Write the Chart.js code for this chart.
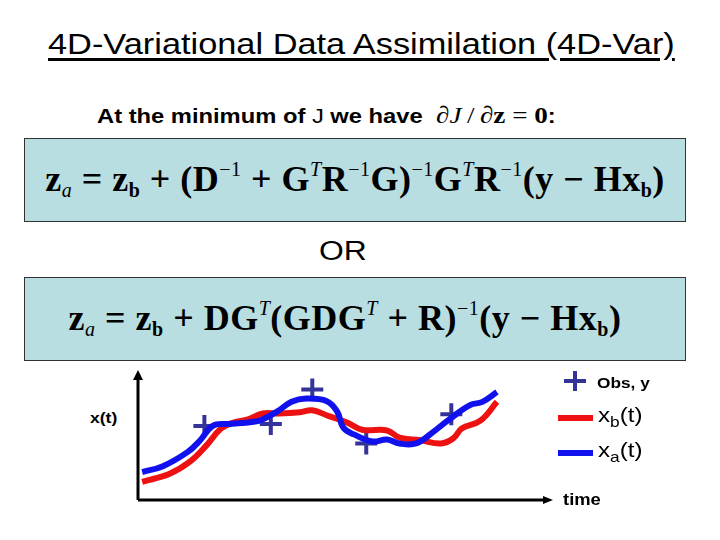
<!DOCTYPE html>
<html>
<head>
<meta charset="utf-8">
<script src="https://cdn.jsdelivr.net/npm/chart.js@4"></script>
<style>
  body { margin: 0; width: 720px; height: 540px; background: #fff; position: relative; overflow: hidden; font-family: "Liberation Sans", Arial, sans-serif; }
  .abs { position: absolute; white-space: nowrap; transform-origin: left center; }
  #title { left: 48px; top: 27px; font-size: 30px; transform: scaleX(1.145); text-decoration: underline; text-decoration-thickness: 3px; text-underline-offset: 4px; }
  #cond { left: 97px; top: 102px; font-size: 21px; font-weight: bold; transform: scaleX(1.13); }
  #cond .m { font-family: "Liberation Serif", serif; font-weight: normal; font-size: 24px; margin-left: 6px; }
  .box { position: absolute; left: 24px; width: 660px; height: 82px; background: #b9dee2; border: 1px solid #333; }
  .eq { position: absolute; left: 0; width: 100%; text-align: center; font-family: "Liberation Serif", serif; font-weight: bold; font-size: 36px; letter-spacing: 0.5px; top: 19px; }
  .eq sup { font-size: 20px; vertical-align: 15px; font-weight: normal; }
  .eq sub { font-size: 20px; vertical-align: -6px; }
  .eq i { font-weight: normal; }
  #or { left: 319px; top: 236px; font-size: 27px; transform: scaleX(1.18); }
  #xt { left: 90px; top: 409px; font-size: 15px; font-weight: bold; transform: scaleX(1.17); }
  #time { left: 563px; top: 491px; font-size: 16px; font-weight: bold; transform: scaleX(1.15); }
  #obs { left: 597px; top: 374px; font-size: 15px; font-weight: bold; transform: scaleX(1.15); }
  .leg { font-size: 21px; transform: scaleX(1.15); }
  .leg sub { font-size: 15px; }
  .swatch { position: absolute; width: 35px; height: 6px; }
  .crossh { position: absolute; left: 564px; top: 379px; width: 22px; height: 4px; background: #333399; }
  .crossv { position: absolute; left: 573px; top: 371px; width: 4px; height: 20px; background: #333399; }
  #chartBox { position: absolute; left: 120px; top: 355px; width: 450px; height: 160px; }
</style>
</head>
<body>
<div id="title" class="abs">4D-Variational Data Assimilation (4D-Var)</div>
<div id="cond" class="abs">At the minimum of <span style="font-weight:normal">J</span> we have <span class="m">&#8706;<i>J</i>&thinsp;/&thinsp;&#8706;<b>z</b> = <b>0</b></span>:</div>

<div class="box" style="top:138px">
  <div class="eq">z<sub><i>a</i></sub> = z<sub>b</sub> + (D<sup>&minus;1</sup> + G<sup><i>T</i></sup>R<sup>&minus;1</sup>G)<sup>&minus;1</sup>G<sup><i>T</i></sup>R<sup>&minus;1</sup>(y &minus; Hx<sub>b</sub>)</div>
</div>
<div id="or" class="abs">OR</div>
<div class="box" style="top:277px">
  <div class="eq" style="width:640px">z<sub><i>a</i></sub> = z<sub>b</sub> + DG<sup><i>T</i></sup>(GDG<sup><i>T</i></sup> + R)<sup>&minus;1</sup>(y &minus; Hx<sub>b</sub>)</div>
</div>

<div id="chartBox"><canvas id="chart" width="450" height="160"></canvas></div>

<div id="xt" class="abs">x(t)</div>
<div id="time" class="abs">time</div>
<div class="crossh"></div><div class="crossv"></div>
<div id="obs" class="abs">Obs, y</div>
<div class="swatch" style="left:558px; top:415px; background:#ee1111"></div>
<div class="abs leg" style="left:598px; top:403px">x<sub>b</sub>(t)</div>
<div class="swatch" style="left:558px; top:450px; background:#1111ee"></div>
<div class="abs leg" style="left:598px; top:438px">x<sub>a</sub>(t)</div>

<script>
// background trajectory x_b(t)
const backgroundX = [1, 7.5, 12.5, 16.5, 20, 23, 26.5, 30, 34, 39, 42, 46, 50.5, 54, 60, 63, 68, 73, 76, 78, 82.5, 86.5]
const backgroundY = [14, 20, 29.5, 42, 55, 59.5, 62, 66.5, 66.5, 67.5, 69, 64.5, 59.5, 54, 53.5, 48, 46, 43.5, 47.5, 55, 61, 75.5]
// analysis trajectory x_a(t)
const analysisX = [1, 6, 12, 15, 18, 21.5, 27.5, 30, 33.5, 37, 40.5, 45.5, 48, 49.5, 52, 56.5, 60, 63, 67, 71, 75, 80, 83, 86.5]
const analysisY = [21.5, 26, 37, 46, 57, 58.5, 60, 62, 68, 75.5, 78, 76, 68, 55.5, 50.5, 45, 46.5, 43.5, 43.5, 52, 62, 73, 75.5, 83]
// observations
const obsX = [16, 32, 42, 55, 75.5]
const obsY = [57, 58.5, 85, 43.5, 66]

const toPoints = (xs, ys) => xs.map((x, i) => ({ x: x, y: ys[i] }))

// draw the two axes with arrow heads
const arrowAxes = {
  id: "arrowAxes",
  afterDraw(chart) {
    const { ctx, chartArea } = chart
    const { left, right, top, bottom } = chartArea
    ctx.save()
    ctx.strokeStyle = "#000"
    ctx.fillStyle = "#000"
    ctx.lineWidth = 3
    ctx.beginPath()
    ctx.moveTo(left, bottom)
    ctx.lineTo(left, top + 8)
    ctx.moveTo(left, bottom)
    ctx.lineTo(right - 8, bottom)
    ctx.stroke()
    ctx.beginPath()
    ctx.moveTo(left, top)
    ctx.lineTo(left - 5, top + 10)
    ctx.lineTo(left + 5, top + 10)
    ctx.closePath()
    ctx.fill()
    ctx.beginPath()
    ctx.moveTo(right, bottom)
    ctx.lineTo(right - 10, bottom - 4)
    ctx.lineTo(right - 10, bottom + 4)
    ctx.closePath()
    ctx.fill()
    ctx.restore()
  },
}

new Chart(document.getElementById("chart"), {
  type: "scatter",
  data: {
    datasets: [
      {
        label: "Obs, y",
        data: toPoints(obsX, obsY),
        pointStyle: "cross",
        pointRadius: 11,
        pointBorderWidth: 4,
        borderColor: "#333399",
        backgroundColor: "#333399",
        order: 3,
      },
      {
        label: "xb(t)",
        data: toPoints(backgroundX, backgroundY),
        showLine: true,
        borderColor: "#ee1111",
        borderWidth: 6,
        pointRadius: 0,
        tension: 0.4,
        order: 2,
      },
      {
        label: "xa(t)",
        data: toPoints(analysisX, analysisY),
        showLine: true,
        borderColor: "#1111ee",
        borderWidth: 6,
        pointRadius: 0,
        tension: 0.4,
        order: 1,
      },
    ],
  },
  options: {
    responsive: false,
    animation: false,
    clip: false,
    layout: { padding: { left: 18, top: 12, right: 17, bottom: 13 } },
    plugins: { legend: { display: false }, tooltip: { enabled: false } },
    scales: {
      x: { type: "linear", min: 0, max: 100, display: false },
      y: { type: "linear", min: 0, max: 100, display: false },
    },
  },
  plugins: [arrowAxes],
})
</script>
</body>
</html>
